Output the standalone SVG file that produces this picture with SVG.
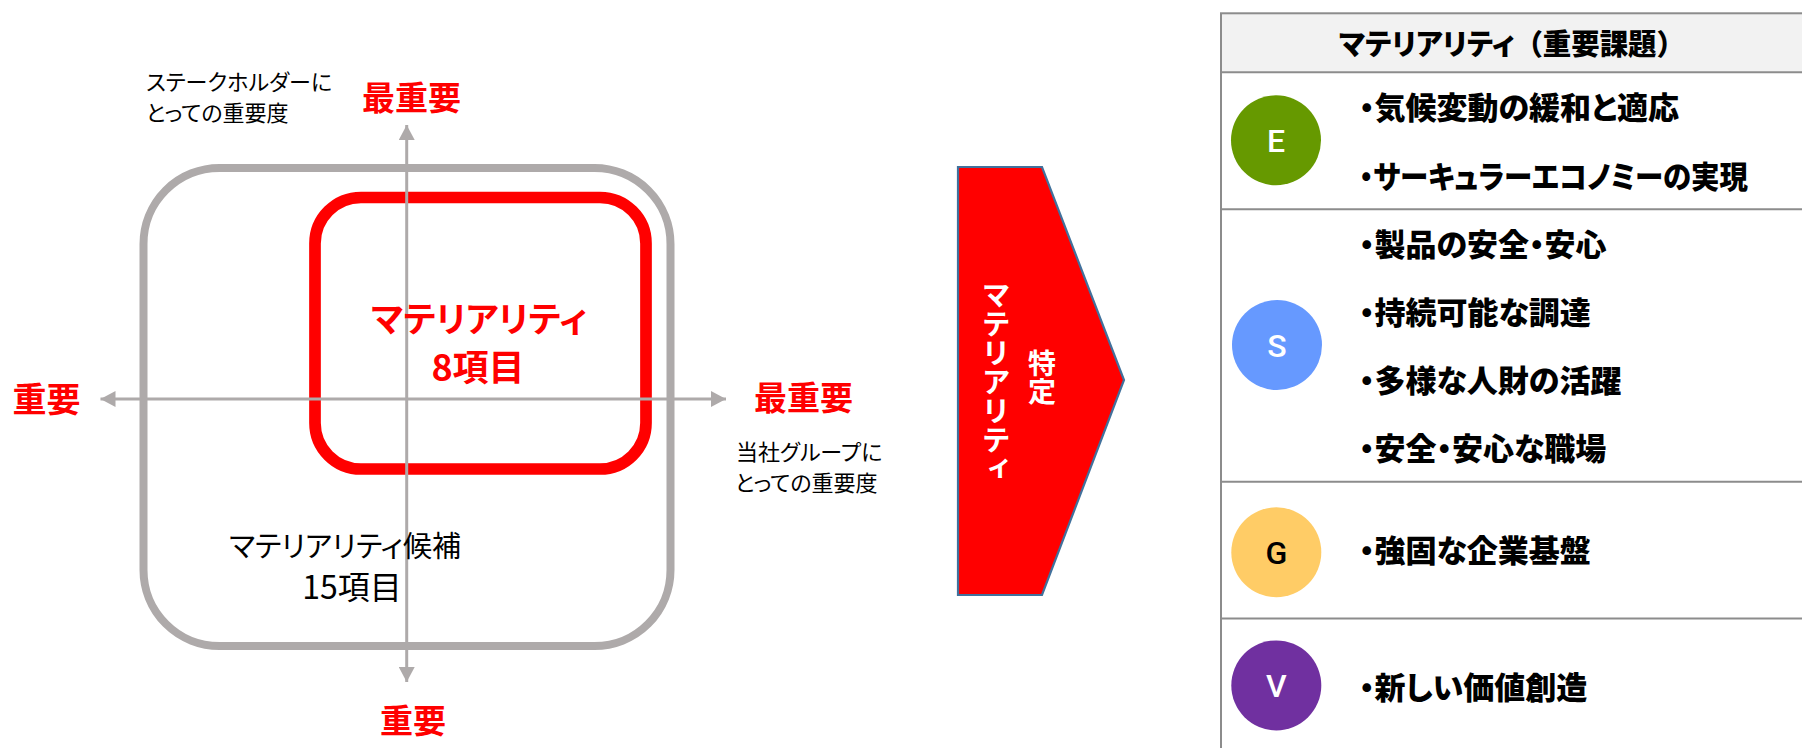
<svg xmlns="http://www.w3.org/2000/svg" width="1802" height="748" viewBox="0 0 1802 748">
<style>
.jp { font-family: "Noto Sans CJK JP", "Noto Sans CJK SC", sans-serif; font-feature-settings: "palt"; }
.fw { font-feature-settings: normal; }
.b { font-weight: bold; }
.red { fill: #FF0000; }
.blk { fill: #000000; }
.axis { stroke: #AEAAAA; stroke-width: 3; fill: none; }
.row { stroke: #8C8C8C; stroke-width: 2; fill: none; }
.item { font-size: 31px; font-weight: 900; fill: #000; }
.badge { font-family: Roboto, "Liberation Sans", sans-serif; font-size: 32px; font-weight: 500; text-anchor: middle; }
.vert { font-family: "Noto Sans CJK JP", sans-serif; font-weight: bold; fill: #FFFFFF; writing-mode: vertical-rl; }
</style>
<defs>
<marker id="head" markerUnits="userSpaceOnUse" markerWidth="16" markerHeight="16" viewBox="0 0 15 16" refX="15" refY="8" orient="auto-start-reverse">
<path d="M0,0 L15,8 L0,16 Z" fill="#AEAAAA"/>
</marker>
</defs>
<rect width="1802" height="748" fill="#FFFFFF"/>

<g id="candidates">
<rect x="143.5" y="168" width="527" height="478" rx="76" ry="76" fill="none" stroke="#AEAAAA" stroke-width="8"/>
</g>
<g id="materiality-box">
<rect x="315" y="197.5" width="331" height="271.5" rx="46" ry="46" fill="none" stroke="#FF0000" stroke-width="11.7"/>
</g>

<g id="connectors">
<line class="axis" x1="406.7" y1="682" x2="406.7" y2="125" marker-start="url(#head)" marker-end="url(#head)"/>
<line class="axis" x1="100.5" y1="399" x2="726" y2="399" marker-start="url(#head)" marker-end="url(#head)"/>
</g>

<g id="materiality-label">
<text class="jp b red" x="479" y="332" font-size="35" text-anchor="middle">マテリアリティ</text>
<text class="jp b red" x="478" y="381" font-size="36" text-anchor="middle">8項目</text>
</g>
<g id="candidates-label">
<text class="jp blk" x="345" y="557" font-size="29" text-anchor="middle">マテリアリティ候補</text>
<text class="jp blk" x="352" y="599" font-size="32" text-anchor="middle">15項目</text>
</g>

<g id="axis-labels">
<text class="jp blk" x="146" y="90" font-size="22">ステークホルダーに</text>
<text class="jp blk" x="146" y="121" font-size="22">とっての重要度</text>
<text class="jp b red" x="362" y="110" font-size="33">最重要</text>
<text class="jp b red" x="12.5" y="411.5" font-size="34">重要</text>
<text class="jp b red" x="754" y="409.5" font-size="33">最重要</text>
<text class="jp b red" x="413" y="732.5" font-size="33" text-anchor="middle">重要</text>
<text class="jp blk" x="736" y="460" font-size="22">当社グループに</text>
<text class="jp blk" x="735" y="491" font-size="22">とっての重要度</text>
</g>

<g id="identify-arrow">
<polygon points="958,167 1042,167 1124,380 1042,595 958,595" fill="#FF0000" stroke="#41719C" stroke-width="2.2"/>
<text class="vert" x="996" y="280" font-size="29">マテリアリティ</text>
<text class="vert" x="1042" y="349" font-size="28">特定</text>
</g>

<g id="table">
<rect x="1221" y="13.3" width="600" height="59" fill="#F2F2F2"/>
<rect x="1221" y="13.3" width="600" height="760" class="row"/>
<line class="row" x1="1221" y1="72.3" x2="1810" y2="72.3"/>
<line class="row" x1="1221" y1="209.3" x2="1810" y2="209.3"/>
<line class="row" x1="1221" y1="481.7" x2="1810" y2="481.7"/>
<line class="row" x1="1221" y1="618.5" x2="1810" y2="618.5"/>
<text class="jp blk" x="1339" y="55" font-size="29" font-weight="900" textLength="346" lengthAdjust="spacingAndGlyphs">マテリアリティ<tspan class="fw">（</tspan>重要課題<tspan class="fw">）</tspan></text>
</g>

<g id="section-E">
<circle cx="1276" cy="140.3" r="45" fill="#669900"/>
<text class="badge" x="1276" y="152" fill="#FFFFFF">E</text>
<text class="jp item" x="1359" y="119">・気候変動の緩和と適応</text>
<text class="jp item" x="1359" y="188" textLength="389" lengthAdjust="spacingAndGlyphs">・サーキュラーエコノミーの実現</text>
</g>

<g id="section-S">
<circle cx="1277" cy="345" r="45" fill="#6699FF"/>
<text class="badge" x="1277" y="356.5" fill="#FFFFFF">S</text>
<text class="jp item" x="1359" y="256">・製品の安全・安心</text>
<text class="jp item" x="1359" y="324">・持続可能な調達</text>
<text class="jp item" x="1359" y="392">・多様な人財の活躍</text>
<text class="jp item" x="1359" y="460">・安全・安心な職場</text>
</g>

<g id="section-G">
<circle cx="1276.3" cy="552.3" r="45" fill="#FFCC66"/>
<text class="badge" x="1276.3" y="564" fill="#000000">G</text>
<text class="jp item" x="1359" y="562">・強固な企業基盤</text>
</g>

<g id="section-V">
<circle cx="1276.3" cy="685.4" r="45" fill="#7030A0"/>
<text class="badge" x="1276.3" y="697" fill="#FFFFFF">V</text>
<text class="jp item" x="1359" y="699">・新しい価値創造</text>
</g>
</svg>
